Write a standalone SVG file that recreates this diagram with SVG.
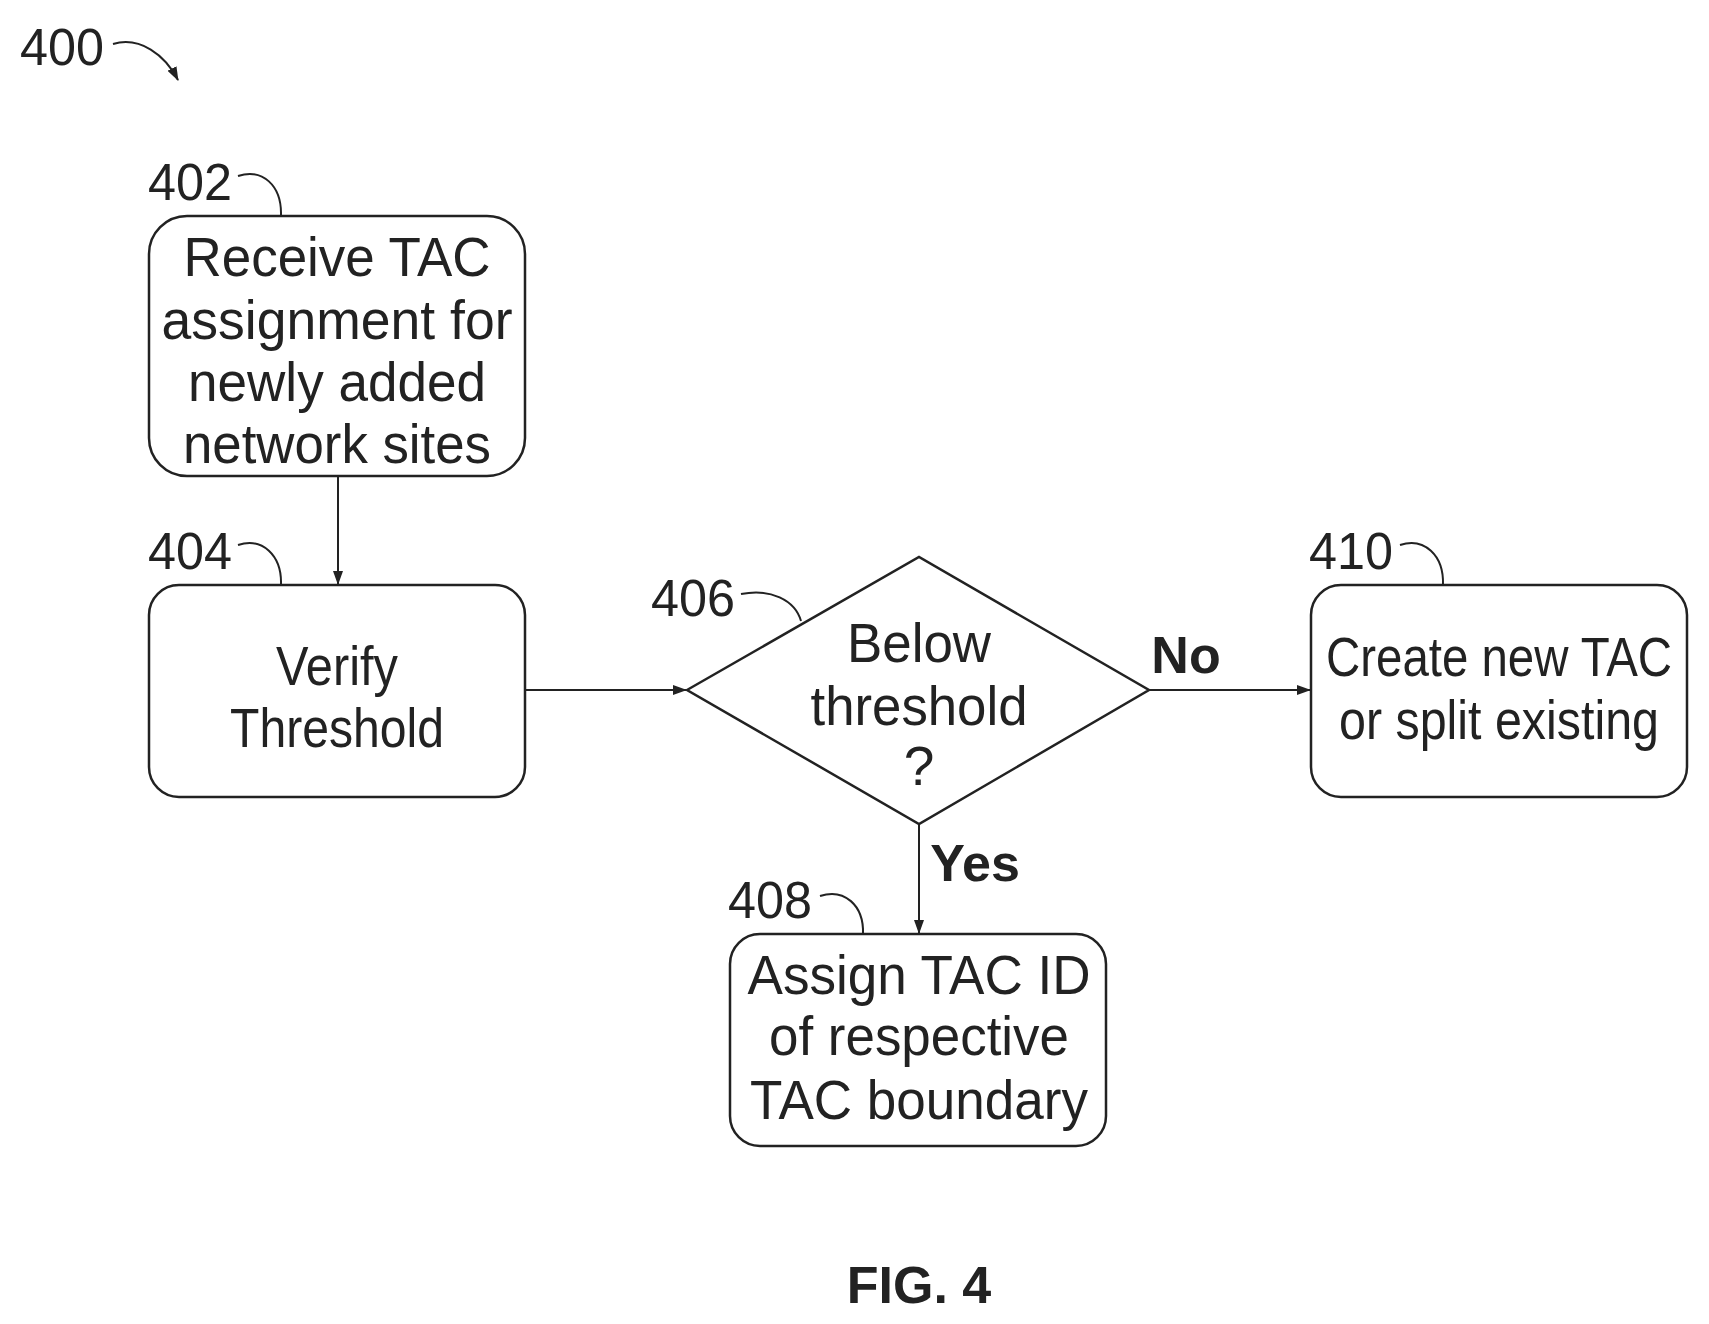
<svg xmlns="http://www.w3.org/2000/svg" width="1709" height="1324" viewBox="0 0 1709 1324">
<defs>
<marker id="ah" markerWidth="14" markerHeight="10" refX="13" refY="5" orient="auto" markerUnits="userSpaceOnUse"><path d="M0,0 L14,5 L0,10 Z" fill="#222"/></marker>
<style>
.b{fill:#fff;stroke:#222;stroke-width:2.5}
.t{font-family:"Liberation Sans",Arial,sans-serif;font-size:55px;fill:#222;text-anchor:middle}
.n{font-family:"Liberation Sans",Arial,sans-serif;font-size:52px;fill:#222}
.bo{font-family:"Liberation Sans",Arial,sans-serif;font-size:52px;font-weight:bold;fill:#222;text-anchor:middle}
.c{fill:none;stroke:#222;stroke-width:2}
</style>
</defs>
<rect width="1709" height="1324" fill="#fff"/>
<g id="label400"><text class="n" x="20" y="65" textLength="84" lengthAdjust="spacingAndGlyphs">400</text><path class="c" d="M113,44 C140,36 165,55 178,80" marker-end="url(#ah)"/></g>
<g id="n402"><rect class="b" x="149" y="216" width="376" height="260" rx="38"/>
<text class="t" x="337" y="276" textLength="307" lengthAdjust="spacingAndGlyphs">Receive TAC</text>
<text class="t" x="337" y="339" textLength="351" lengthAdjust="spacingAndGlyphs">assignment for</text>
<text class="t" x="337" y="401" textLength="298" lengthAdjust="spacingAndGlyphs">newly added</text>
<text class="t" x="337" y="463" textLength="308" lengthAdjust="spacingAndGlyphs">network sites</text>
<text class="n" x="148" y="200" textLength="84" lengthAdjust="spacingAndGlyphs">402</text><path class="c" d="M238,176 C262,168 282,185 281,216"/></g>
<g id="n404"><rect class="b" x="149" y="585" width="376" height="212" rx="30"/>
<text class="t" x="337" y="685" textLength="122" lengthAdjust="spacingAndGlyphs">Verify</text>
<text class="t" x="337" y="747" textLength="214" lengthAdjust="spacingAndGlyphs">Threshold</text>
<text class="n" x="148" y="569" textLength="84" lengthAdjust="spacingAndGlyphs">404</text><path class="c" d="M238,545 C262,537 282,555 281,585"/></g>
<g id="n406"><polygon class="b" points="687,690 919,557 1149,690 919,824"/>
<text class="t" x="919" y="662" textLength="144" lengthAdjust="spacingAndGlyphs">Below</text>
<text class="t" x="919" y="725" textLength="217" lengthAdjust="spacingAndGlyphs">threshold</text>
<text class="t" x="919" y="785">?</text>
<text class="n" x="651" y="616" textLength="84" lengthAdjust="spacingAndGlyphs">406</text><path class="c" d="M741,594 C770,588 795,600 801,621"/></g>
<g id="n410"><rect class="b" x="1311" y="585" width="376" height="212" rx="30"/>
<text class="t" x="1499" y="676" textLength="346" lengthAdjust="spacingAndGlyphs">Create new TAC</text>
<text class="t" x="1499" y="739" textLength="320" lengthAdjust="spacingAndGlyphs">or split existing</text>
<text class="n" x="1309" y="569" textLength="84" lengthAdjust="spacingAndGlyphs">410</text><path class="c" d="M1400,545 C1424,537 1444,555 1443,585"/></g>
<g id="n408"><rect class="b" x="730" y="934" width="376" height="212" rx="30"/>
<text class="t" x="919" y="994" textLength="343" lengthAdjust="spacingAndGlyphs">Assign TAC ID</text>
<text class="t" x="919" y="1055" textLength="300" lengthAdjust="spacingAndGlyphs">of respective</text>
<text class="t" x="919" y="1119" textLength="338" lengthAdjust="spacingAndGlyphs">TAC boundary</text>
<text class="n" x="728" y="918" textLength="84" lengthAdjust="spacingAndGlyphs">408</text><path class="c" d="M820,896 C844,888 864,905 863,934"/></g>
<g id="connectors">
<line class="c" x1="338" y1="476" x2="338" y2="584" marker-end="url(#ah)"/>
<line class="c" x1="525" y1="690" x2="686" y2="690" marker-end="url(#ah)"/>
<line class="c" x1="1149" y1="690" x2="1310" y2="690" marker-end="url(#ah)"/>
<line class="c" x1="919" y1="824" x2="919" y2="933" marker-end="url(#ah)"/>
<text class="bo" x="1186" y="673">No</text>
<text class="bo" x="975" y="881">Yes</text>
</g>
<text class="bo" x="919" y="1303" font-size="60">FIG. 4</text>
</svg>
